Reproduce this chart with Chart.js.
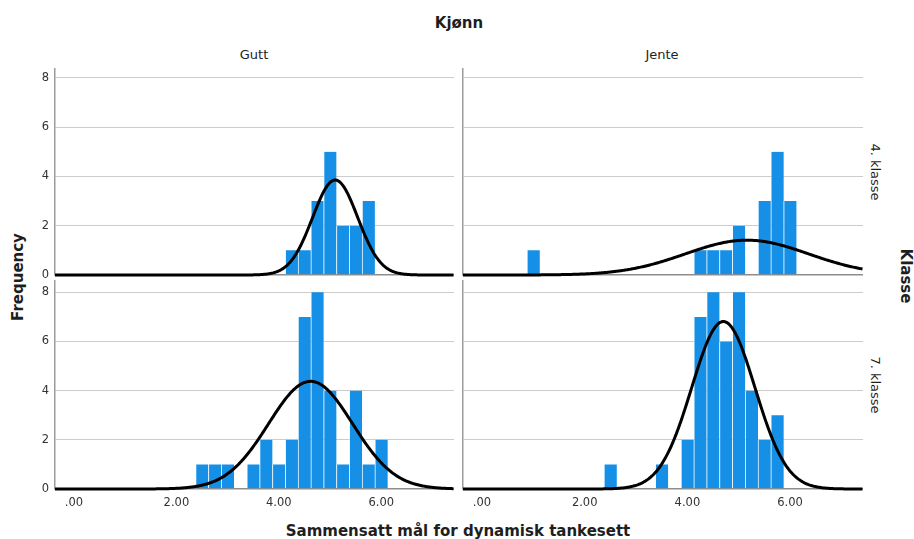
<!DOCTYPE html>
<html><head><meta charset="utf-8">
<script src="https://cdn.jsdelivr.net/npm/chart.js@4.4.1/dist/chart.umd.min.js"></script>
<style>
html,body{margin:0;padding:0;background:#fff;}
body{width:914px;height:539px;overflow:hidden;position:relative;font-family:"DejaVu Sans",sans-serif;}
.lbl{position:absolute;white-space:nowrap;color:#1e1e1e;line-height:1;}
.c{transform:translate(-50%,0);}
.rot{transform:translate(-50%,-50%) rotate(90deg);}
.rotl{transform:translate(-50%,-50%) rotate(-90deg);}
.b{font-weight:bold;font-size:15px;}
.s{font-size:13px;}
canvas{position:absolute;}
</style></head><body>
<div class="lbl b c" style="left:459px;top:16px;">Kjønn</div>
<div class="lbl s c" style="left:254px;top:48px;">Gutt</div>
<div class="lbl s c" style="left:662px;top:48px;">Jente</div>
<div class="lbl s rot" style="left:875px;top:172px;">4. klasse</div>
<div class="lbl s rot" style="left:875px;top:385px;">7. klasse</div>
<div class="lbl b rot" style="left:905px;top:276px;">Klasse</div>
<div class="lbl b rotl" style="left:18px;top:277px;">Frequency</div>
<div class="lbl b c" style="left:458px;top:524px;">Sammensatt mål for dynamisk tankesett</div>

<canvas id="tl" width="430" height="211" style="left:24px;top:68px;"></canvas>
<canvas id="tr" width="402" height="211" style="left:461px;top:68px;"></canvas>
<canvas id="bl" width="430" height="233" style="left:24px;top:280px;"></canvas>
<canvas id="br" width="402" height="233" style="left:461px;top:280px;"></canvas>

<script>
// ---- Data ----
const gutt4Bins   = [4.25, 4.5, 4.75, 5.0, 5.25, 5.5, 5.75];
const gutt4Counts = [1, 1, 3, 5, 2, 2, 3];
const jente4Bins   = [1.0, 4.25, 4.5, 4.75, 5.0, 5.5, 5.75, 6.0];
const jente4Counts = [1, 1, 1, 1, 2, 3, 5, 3];
const gutt7Bins   = [2.5, 2.75, 3.0, 3.5, 3.75, 4.0, 4.25, 4.5, 4.75, 5.0, 5.25, 5.5, 5.75, 6.0];
const gutt7Counts = [1, 1, 1, 1, 2, 1, 2, 7, 8, 4, 1, 4, 1, 2];
const jente7Bins   = [2.5, 3.5, 4.0, 4.25, 4.5, 4.75, 5.0, 5.25, 5.5, 5.75];
const jente7Counts = [1, 1, 2, 7, 8, 6, 8, 4, 2, 3];
// fitted normal curve parameters per panel: [Gutt 4, Jente 4, Gutt 7, Jente 7]
const curveMean = [5.10, 5.16, 4.62, 4.70];
const curveSD   = [0.44, 1.20, 0.82, 0.615];
const curveN    = [17, 17, 36, 42];
const binWidth = 0.25;
const yTicks = [0, 2, 4, 6, 8];
const xTicks = [0, 2, 4, 6];
const xTickLabels = ['.00', '2.00', '4.00', '6.00'];

const X_MIN = -0.37, X_MAX = 7.42;
const FONT = '"DejaVu Sans", sans-serif';

function curvePoints(i) {
  const pts = [];
  const m = curveMean[i], s = curveSD[i], k = curveN[i] * binWidth / (s * Math.sqrt(2 * Math.PI));
  for (let x = X_MIN; x <= X_MAX + 1e-9; x += 0.02) {
    pts.push({x: x, y: k * Math.exp(-0.5 * ((x - m) / s) ** 2)});
  }
  return pts;
}

function noPad(s) { s.paddingTop = 0; s.paddingBottom = 0; s.paddingLeft = 0; s.paddingRight = 0; }

function panel(id, bins, counts, idx, showX, showY, yMax) {
  new Chart(document.getElementById(id), {
    data: {
      datasets: [
        {
          type: 'line',
          data: curvePoints(idx),
          borderColor: '#000',
          borderWidth: 3,
          pointRadius: 0,
          tension: 0,
          order: 0,
          clip: 3
        },
        {
          type: 'bar',
          data: bins.map((b, i) => ({x: b, y: counts[i]})),
          backgroundColor: '#1590e6',
          borderColor: 'rgba(255,255,255,0.5)',
          borderWidth: {left: 1, right: 0, top: 0, bottom: 0},
          borderSkipped: false,
          barPercentage: 1,
          categoryPercentage: 1,
          order: 1
        }
      ]
    },
    options: {
      responsive: false,
      animation: false,
      events: [],
      layout: {padding: 0, autoPadding: false},
      plugins: {legend: {display: false}, tooltip: {enabled: false}},
      scales: {
        x: {
          type: 'linear', min: X_MIN, max: X_MAX, offset: false,
          grid: {display: false, drawTicks: false, offset: false},
          border: {display: false},
          afterBuildTicks: s => { s.ticks = xTicks.map(v => ({value: v})); },
          afterFit: s => { s.height = showX ? 24 : 4; noPad(s); },
          ticks: {
            display: showX, padding: 7, color: '#333', maxRotation: 0, autoSkip: false,
            font: {family: FONT, size: 11.5},
            callback: v => xTickLabels[xTicks.indexOf(v)]
          }
        },
        y: {
          type: 'linear', min: 0, max: yMax,
          afterBuildTicks: s => { s.ticks = yTicks.map(v => ({value: v})); },
          afterFit: s => { s.width = showY ? 31 : 2; noPad(s); },
          grid: {
            drawTicks: false,
            color: c => c.tick && c.tick.value === 0 ? '#8e8e8e' : '#cccccc',
            lineWidth: c => c.tick && c.tick.value === 0 ? 1.5 : 1
          },
          border: {display: true, color: '#9c9c9c', width: 1.5},
          ticks: {
            display: showY, padding: 6, color: '#333',
            font: {family: FONT, size: 11.5}
          }
        }
      }
    }
  });
}

panel('tl', gutt4Bins, gutt4Counts, 0, false, true, 8.4);
panel('tr', jente4Bins, jente4Counts, 1, false, false, 8.4);
panel('bl', gutt7Bins, gutt7Counts, 2, true, true, 8.5);
panel('br', jente7Bins, jente7Counts, 3, true, false, 8.5);
</script>
</body></html>
